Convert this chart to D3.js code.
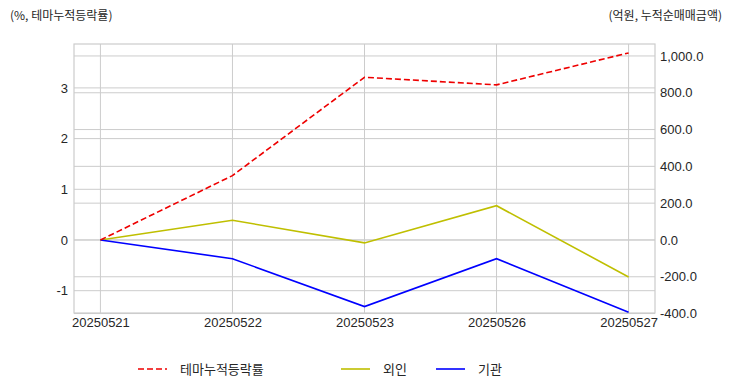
<!DOCTYPE html>
<html>
<head>
<meta charset="utf-8">
<script src="https://cdn.jsdelivr.net/npm/d3@7"></script>
<style>
  body { margin: 0; background: #fff; }
  text { font-family: "Liberation Sans", Arial, sans-serif; fill: #262626; }
  .ko { font-family: "Noto Sans CJK KR", "Noto Sans", sans-serif; }
</style>
</head>
<body>
<div id="chart"></div>
<script>
// data
const dates = ["20250521", "20250522", "20250523", "20250526", "20250527"]
const themeRate = [0, 1.27, 3.21, 3.06, 3.69]          // %, left axis
const foreign = [0, 107, -16, 186, -201]                // 억원, right axis
const institution = [0, -102, -362, -102, -393]         // 억원, right axis
const leftTicks = [-1, 0, 1, 2, 3]
const rightTicks = [-400, -200, 0, 200, 400, 600, 800, 1000]

const W = 732, H = 392
const margin = { top: 44, right: 77, bottom: 79, left: 74 }
const width = W - margin.left - margin.right
const height = H - margin.top - margin.bottom

const svg = d3.select("#chart").append("svg")
    .attr("width", W)
    .attr("height", H)

const g = svg.append("g")
    .attr("transform", "translate(" + margin.left + "," + margin.top + ")")

// scales
const x = d3.scalePoint()
    .domain(dates)
    .range([0, width])
    .padding(0.2)

const yL = d3.scaleLinear().domain([-1.44, 3.866]).range([height, 0])
const yR = d3.scaleLinear().domain([-397, 1065]).range([height, 0])

const gridColor = "#cccccc"

// grids
g.append("g").selectAll("line").data(leftTicks).enter().append("line")
    .attr("x1", 0).attr("x2", width)
    .attr("y1", d => yL(d)).attr("y2", d => yL(d))
    .attr("stroke", gridColor).attr("stroke-width", 1)

g.append("g").selectAll("line").data(rightTicks).enter().append("line")
    .attr("x1", 0).attr("x2", width)
    .attr("y1", d => yR(d)).attr("y2", d => yR(d))
    .attr("stroke", gridColor).attr("stroke-width", 1)

g.append("g").selectAll("line").data(dates).enter().append("line")
    .attr("x1", d => x(d)).attr("x2", d => x(d))
    .attr("y1", 0).attr("y2", height)
    .attr("stroke", gridColor).attr("stroke-width", 1)

// frame
g.append("rect")
    .attr("width", width).attr("height", height)
    .attr("fill", "none").attr("stroke", gridColor).attr("stroke-width", 1.2)

// axes (hyphen minus like the original)
const fixMinus = f => d => f(d).replace("−", "-")
const axL = g.append("g")
    .call(d3.axisLeft(yL).tickValues(leftTicks).tickSize(0).tickPadding(6).tickFormat(fixMinus(d3.format("d"))))
const axR = g.append("g")
    .attr("transform", "translate(" + width + ",0)")
    .call(d3.axisRight(yR).tickValues(rightTicks).tickSize(0).tickPadding(5).tickFormat(fixMinus(d3.format(",.1f"))))
const axX = g.append("g")
    .attr("transform", "translate(0," + height + ")")
    .call(d3.axisBottom(x).tickSize(0).tickPadding(5))

;[axL, axR, axX].forEach(a => {
    a.select(".domain").remove()
    a.selectAll("text").attr("font-size", 13).style("font-family", '"Liberation Sans", Arial, sans-serif').attr("fill", "#262626")
})

// lines
const lineL = d3.line().x((d, i) => x(dates[i])).y(d => yL(d))
const lineR = d3.line().x((d, i) => x(dates[i])).y(d => yR(d))

g.append("path").datum(foreign)
    .attr("d", lineR).attr("fill", "none")
    .attr("stroke", "#bfbf00").attr("stroke-width", 1.6)

g.append("path").datum(institution)
    .attr("d", lineR).attr("fill", "none")
    .attr("stroke", "#0000ff").attr("stroke-width", 1.6)

g.append("path").datum(themeRate)
    .attr("d", lineL).attr("fill", "none")
    .attr("stroke", "#ee0000").attr("stroke-width", 1.6)
    .attr("stroke-dasharray", "6,3")

// axis titles
svg.append("text").attr("class", "ko")
    .attr("x", 10).attr("y", 20)
    .attr("font-size", 12)
    .text("(%, 테마누적등락률)")

svg.append("text").attr("class", "ko")
    .attr("x", 722).attr("y", 20)
    .attr("text-anchor", "end")
    .attr("font-size", 12)
    .text("(억원, 누적순매매금액)")

// legend
const legend = [
    { name: "테마누적등락률", color: "#ee0000", dash: "6,3", x: 138 },
    { name: "외인", color: "#bfbf00", dash: null, x: 341 },
    { name: "기관", color: "#0000ff", dash: null, x: 436 }
]
const lg = svg.append("g").attr("transform", "translate(0,369)")
legend.forEach(d => {
    lg.append("line")
        .attr("x1", d.x).attr("x2", d.x + 29)
        .attr("y1", 0).attr("y2", 0)
        .attr("stroke", d.color).attr("stroke-width", 1.6)
        .attr("stroke-dasharray", d.dash)
    lg.append("text").attr("class", "ko")
        .attr("x", d.x + 42).attr("y", 0)
        .attr("dy", "0.35em")
        .attr("font-size", 13)
        .text(d.name)
})
</script>
</body>
</html>
